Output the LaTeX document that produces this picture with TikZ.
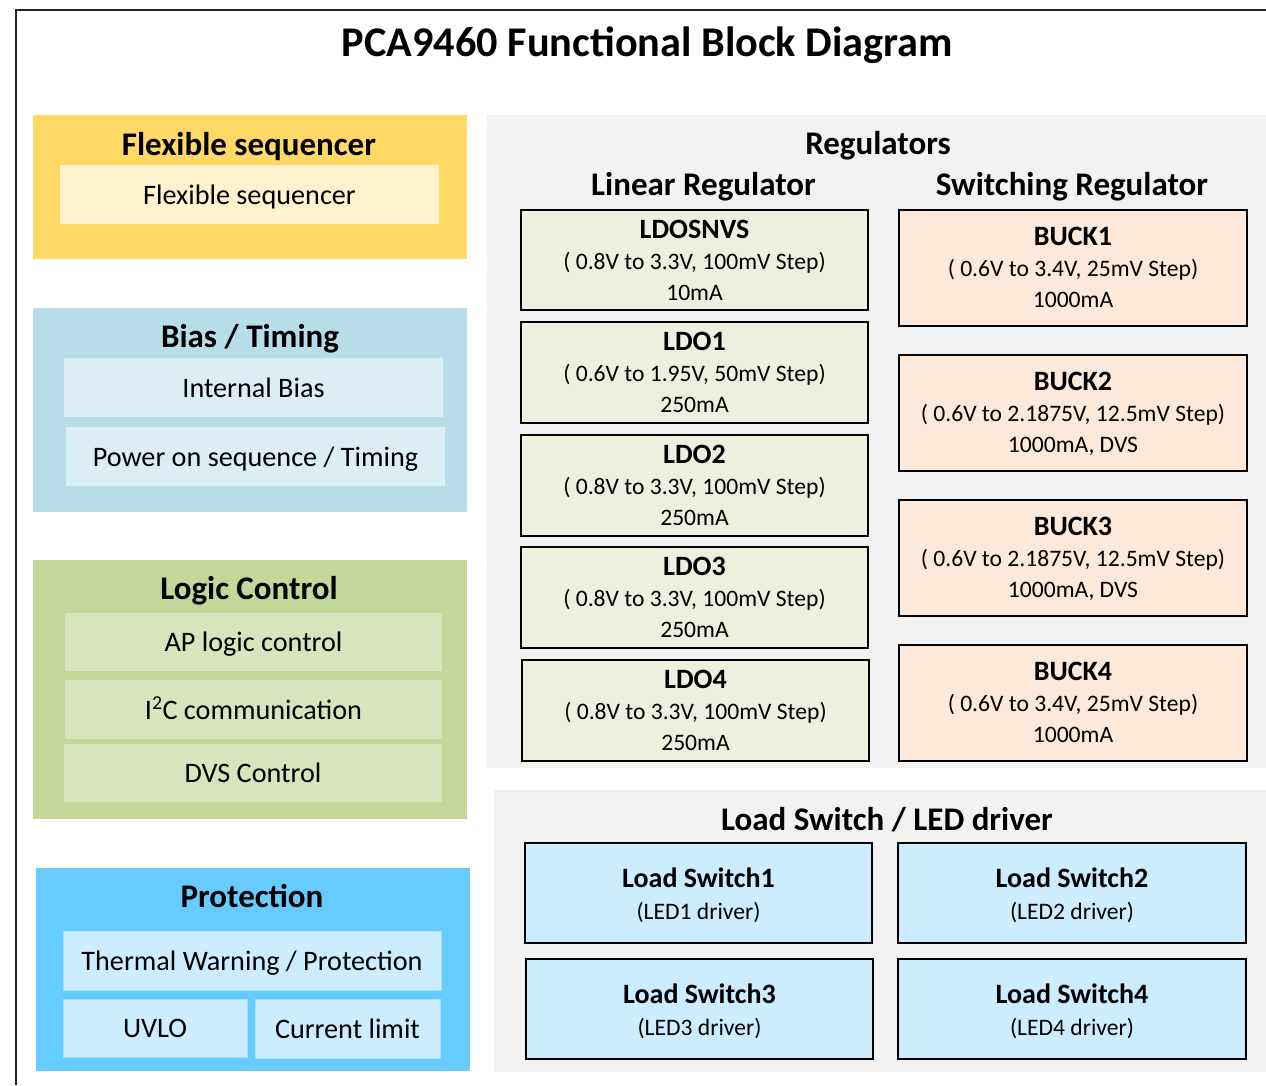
\documentclass[tikz,border=0pt]{standalone}
\usepackage{fontspec}
\setmainfont{Carlito}
\definecolor{flexO}{HTML}{FFD966}
\definecolor{flexI}{HTML}{FFF2CC}
\definecolor{biasO}{HTML}{B7DEE8}
\definecolor{biasI}{HTML}{DAEEF3}
\definecolor{logO}{HTML}{C4D79B}
\definecolor{logI}{HTML}{D8E4BC}
\definecolor{protO}{HTML}{66CCFF}
\definecolor{protI}{HTML}{CCECFF}
\definecolor{protE}{HTML}{A8DEFF}
\definecolor{grayA}{HTML}{F2F2F2}
\definecolor{ldoF}{HTML}{EBF1DE}
\definecolor{buckF}{HTML}{FDE9D9}
\definecolor{lsF}{HTML}{CCECFF}
\tikzset{
  blk/.style={anchor=north west, inner sep=0pt, outer sep=0pt},
  unit/.style={draw=black, line width=1.6pt},
  ttl/.style={anchor=base, inner sep=0pt, font=\fontsize{42.3}{48}\bfseries\selectfont},
  head/.style={anchor=base, inner sep=0pt, font=\fontsize{33}{38}\bfseries\selectfont},
  rhead/.style={anchor=base, inner sep=0pt, font=\fontsize{33}{38}\bfseries\selectfont},
  itxt/.style={anchor=base, inner sep=0pt, font=\fontsize{28.2}{32}\selectfont},
  btitle/.style={anchor=base, inner sep=0pt, font=\fontsize{28}{32}\bfseries\selectfont},
  bsub/.style={anchor=base, inner sep=0pt, font=\fontsize{23.6}{28}\selectfont},
  ldobox/.style={blk, unit, fill=ldoF},
  buckbox/.style={blk, unit, fill=buckF},
  lsbox/.style={blk, unit, fill=lsF},
}
% rectangle node: name, x1, y1, x2, y2, style
\newcommand\rect[6]{\node[blk,#6,minimum width={(#4-#2)*1pt},minimum height={(#5-#3)*1pt}] (#1) at (#2,#3) {};}
% inner box with one line of text: name, x1, y1, x2, y2, style, text
\newcommand\ibox[7]{\rect{#1}{#2}{#3}{#4}{#5}{#6}%
  \pgfmathsetmacro\cx{(#2+#4)/2}\pgfmathsetmacro\by{(#3+#5)/2+9.5}%
  \node[itxt] (#1t) at (\cx,\by) {#7};}
\def\ldooff{28.5}
\def\buckoff{35.5}
% regulator box: name, x1, y1, x2, y2, kind, title, sub, current
\newcommand\regbox[9]{\rect{#1}{#2}{#3}{#4}{#5}{#6box}%
  \pgfmathsetmacro\cx{(#2+#4)/2}%
  \pgfmathsetmacro\ya{#3+\csname #6off\endcsname}%
  \pgfmathsetmacro\yb{\ya+31}\pgfmathsetmacro\yc{\ya+62}%
  \node[btitle] (#1t) at (\cx,\ya) {#7};
  \node[bsub] (#1s) at (\cx,\yb) {#8};
  \node[bsub] (#1c) at (\cx,\yc) {#9};}
% load switch box: name, x1, y1, x2, y2, title, sub
\newcommand\lsbox[7]{\rect{#1}{#2}{#3}{#4}{#5}{lsbox}%
  \pgfmathsetmacro\cx{(#2+#4)/2}%
  \pgfmathsetmacro\ya{#3+44}\pgfmathsetmacro\yb{#3+76}%
  \node[btitle] (#1t) at (\cx,\ya) {#6};
  \node[bsub] (#1s) at (\cx,\yb) {#7};}
\begin{document}
\begin{tikzpicture}[x=1pt,y=-1pt]
\useasboundingbox[fill=white] (0,0) rectangle (1266,1085);
% outer frame
\coordinate (fA) at (16,1085);
\coordinate (fB) at (16,10);
\coordinate (fC) at (1266,10);
\draw[line width=2pt, color=black!85] (fA) -- (fB) -- (fC);
\node[ttl] (title) at (647.5,56.5) {PCA9460 Functional Block Diagram};

% Flexible sequencer
\rect{flex}{33}{115}{467}{259}{fill=flexO}
\node[head] (flexh) at (249,155) {Flexible sequencer};
\ibox{flexi}{60}{165}{439}{224}{fill=flexI}{Flexible sequencer}

% Bias / Timing
\rect{bias}{33}{308}{467}{512}{fill=biasO}
\node[head] (biash) at (250,347.5) {Bias / Timing};
\ibox{bias1}{64}{358}{443}{417}{fill=biasI}{Internal Bias}
\ibox{bias2}{66}{427}{445}{486}{fill=biasI}{Power on sequence / Timing}

% Logic Control
\rect{logic}{33}{560}{467}{819}{fill=logO}
\node[head] (logich) at (249,599.5) {Logic Control};
\ibox{log1}{65}{613}{442}{671}{fill=logI}{AP logic control}
\ibox{log2}{65}{680}{442}{739}{fill=logI}{I\textsuperscript{2}C communication}
\ibox{log3}{64}{744}{442}{802}{fill=logI}{DVS Control}

% Protection
\rect{prot}{36}{868}{470}{1071}{fill=protO}
\node[head] (proth) at (252,907.5) {Protection};
\ibox{prot1}{63}{931}{441}{990}{fill=protI, draw=protE, line width=0.8pt}{Thermal Warning / Protection}
\ibox{prot2}{63}{999}{247}{1057}{fill=protI, draw=protE, line width=0.8pt}{UVLO}
\ibox{prot3}{255}{999}{440}{1058}{fill=protI, draw=protE, line width=0.8pt}{Current limit}

% Regulators
\rect{regs}{487}{115}{1266}{768}{fill=grayA}
\node[rhead] (regsh) at (878,154.5) {Regulators};
\node[rhead] (linh) at (703.5,195.5) {Linear Regulator};
\node[rhead] (swh) at (1072,195.5) {Switching Regulator};
\regbox{ldos}{521}{210}{868}{310}{ldo}{LDOSNVS}{( 0.8V to 3.3V, 100mV Step)}{10mA}
\regbox{ldoa}{521}{322}{868}{423}{ldo}{LDO1}{( 0.6V to 1.95V, 50mV Step)}{250mA}
\regbox{ldob}{521}{435}{868}{536}{ldo}{LDO2}{( 0.8V to 3.3V, 100mV Step)}{250mA}
\regbox{ldoc}{521}{547}{868}{648}{ldo}{LDO3}{( 0.8V to 3.3V, 100mV Step)}{250mA}
\regbox{ldod}{522}{660}{869}{761}{ldo}{LDO4}{( 0.8V to 3.3V, 100mV Step)}{250mA}
\regbox{bucka}{899}{210}{1247}{326}{buck}{BUCK1}{( 0.6V to 3.4V, 25mV Step)}{1000mA}
\regbox{buckb}{899}{355}{1247}{471}{buck}{BUCK2}{( 0.6V to 2.1875V, 12.5mV Step)}{1000mA, DVS}
\regbox{buckc}{899}{500}{1247}{616}{buck}{BUCK3}{( 0.6V to 2.1875V, 12.5mV Step)}{1000mA, DVS}
\regbox{buckd}{899}{645}{1247}{761}{buck}{BUCK4}{( 0.6V to 3.4V, 25mV Step)}{1000mA}

% Load switch
\rect{lsw}{494}{790}{1266}{1072}{fill=grayA}
\node[rhead] (lswh) at (887,830.5) {Load Switch / LED driver};
\lsbox{lsa}{525}{843}{872}{943}{Load Switch1}{(LED1 driver)}
\lsbox{lsb}{898}{843}{1246}{943}{Load Switch2}{(LED2 driver)}
\lsbox{lsc}{526}{959}{873}{1059}{Load Switch3}{(LED3 driver)}
\lsbox{lsd}{898}{959}{1246}{1059}{Load Switch4}{(LED4 driver)}
\end{tikzpicture}
\end{document}
